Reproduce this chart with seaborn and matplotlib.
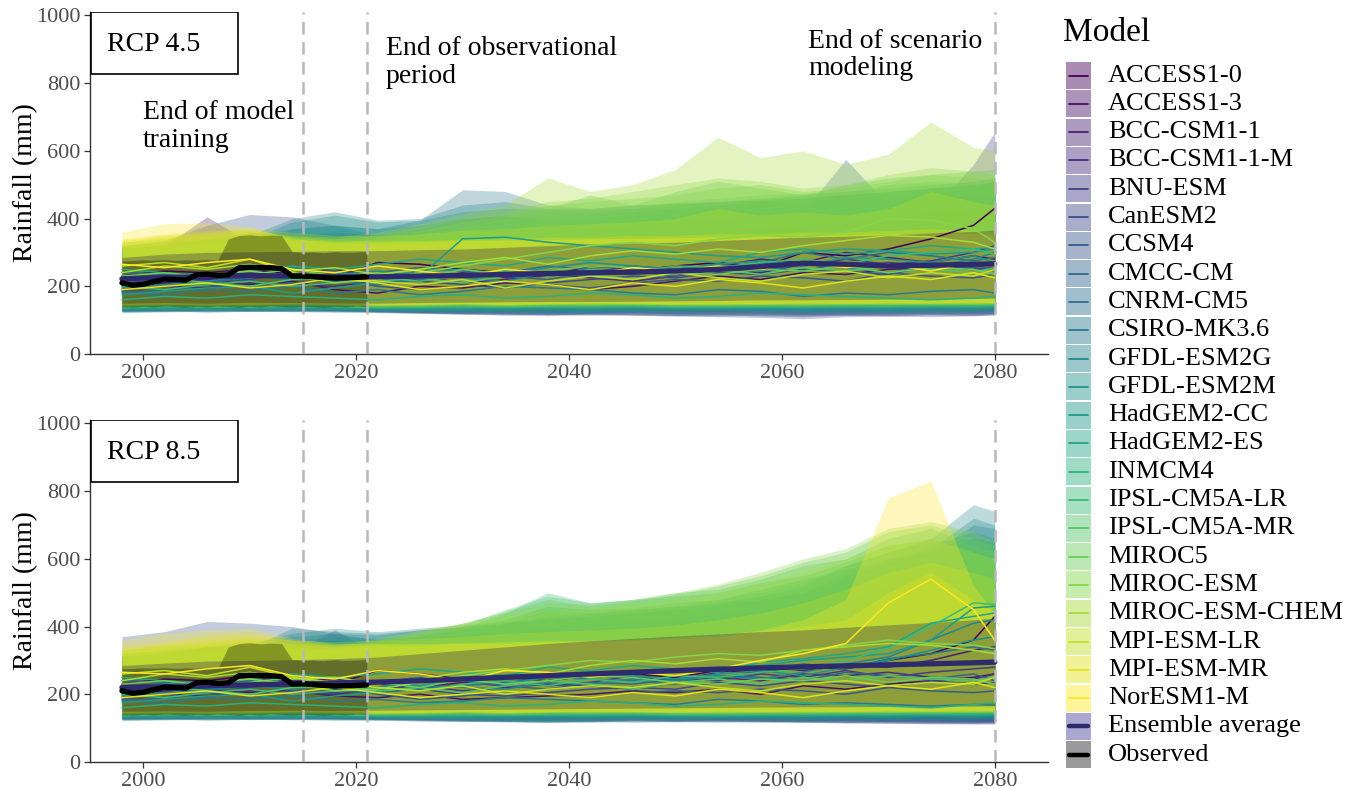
import numpy as np
import pandas as pd
import matplotlib
matplotlib.use("Agg")
import matplotlib.pyplot as plt
import seaborn as sns
from matplotlib.patches import Rectangle
from matplotlib.lines import Line2D

# ---------------- data ----------------
models = ["ACCESS1-0", "ACCESS1-3", "BCC-CSM1-1", "BCC-CSM1-1-M", "BNU-ESM", "CanESM2",
          "CCSM4", "CMCC-CM", "CNRM-CM5", "CSIRO-MK3.6", "GFDL-ESM2G", "GFDL-ESM2M",
          "HadGEM2-CC", "HadGEM2-ES", "INMCM4", "IPSL-CM5A-LR", "IPSL-CM5A-MR", "MIROC5",
          "MIROC-ESM", "MIROC-ESM-CHEM", "MPI-ESM-LR", "MPI-ESM-MR", "NorESM1-M"]

years = [1998, 2002, 2006, 2010, 2014, 2018, 2022, 2026, 2030, 2034, 2038,
         2042, 2046, 2050, 2054, 2058, 2062, 2066, 2070, 2074, 2078, 2080]

obs_years = [1998, 1999, 2000, 2001, 2002, 2003, 2004, 2005, 2006, 2007, 2008, 2009,
             2010, 2011, 2012, 2013, 2014, 2015, 2016, 2017, 2018, 2019, 2020, 2021]
obs_mid = [210, 203, 206, 214, 221, 220, 218, 234, 236, 232, 234, 255,
           256, 255, 255, 252, 230, 231, 228, 226, 224, 225, 226, 228]
obs_lo = [140, 138, 141, 139, 142, 140, 138, 141, 139, 142, 140, 138,
          141, 139, 142, 140, 139, 141, 140, 138, 141, 139, 142, 140]
obs_hi = [275, 276, 278, 277, 279, 276, 278, 277, 279, 276, 340, 350,
          352, 349, 351, 350, 302, 300, 301, 299, 302, 300, 301, 303]

# RCP 4.5
ens45_mid = [222, 226, 228, 232, 230, 228, 228, 230, 232, 235, 238, 240, 242, 245, 250, 258, 268, 265, 260, 262, 265, 266]
ens45_lo = [150, 152, 150, 153, 152, 151, 150, 152, 153, 154, 155, 155, 156, 157, 158, 160, 160, 161, 162, 163, 164, 165]
ens45_hi = [285, 295, 300, 302, 303, 305, 305, 308, 310, 315, 320, 325, 328, 330, 335, 340, 345, 348, 352, 358, 362, 366]

rcp45_mid = [
    [230, 245, 240, 250, 235, 225, 270, 265, 250, 240, 235, 250, 245, 260, 270, 255, 300, 290, 310, 340, 380, 430],
    [200, 210, 220, 205, 215, 190, 180, 200, 195, 210, 205, 190, 200, 215, 230, 220, 240, 235, 250, 255, 270, 260],
    [215, 205, 230, 260, 240, 250, 230, 220, 240, 225, 230, 260, 250, 240, 260, 280, 270, 300, 285, 270, 290, 280],
    [190, 200, 195, 210, 205, 200, 215, 230, 210, 220, 235, 225, 215, 230, 250, 240, 265, 255, 270, 260, 250, 255],
    [225, 230, 215, 220, 240, 230, 210, 220, 235, 245, 230, 240, 260, 250, 245, 270, 260, 280, 265, 275, 300, 320],
    [210, 220, 225, 215, 200, 210, 225, 215, 205, 195, 210, 220, 230, 225, 240, 235, 250, 245, 235, 260, 255, 250],
    [185, 190, 205, 195, 210, 220, 200, 190, 200, 215, 205, 195, 210, 220, 215, 230, 225, 215, 240, 230, 225, 235],
    [240, 235, 225, 245, 230, 220, 240, 255, 245, 230, 220, 240, 235, 250, 265, 255, 245, 270, 260, 250, 265, 245],
    [205, 215, 210, 225, 240, 215, 205, 220, 230, 240, 260, 250, 245, 230, 255, 270, 300, 280, 300, 290, 275, 285],
    [180, 175, 190, 185, 200, 180, 190, 175, 185, 200, 195, 190, 180, 175, 190, 185, 170, 180, 175, 185, 190, 180],
    [195, 205, 215, 230, 220, 235, 245, 230, 225, 215, 240, 230, 250, 245, 260, 245, 265, 255, 240, 260, 280, 300],
    [220, 230, 240, 225, 255, 240, 225, 245, 250, 235, 255, 270, 260, 250, 265, 275, 260, 285, 280, 270, 290, 270],
    [175, 185, 195, 200, 180, 195, 210, 230, 340, 345, 330, 320, 310, 300, 290, 285, 300, 310, 305, 295, 300, 310],
    [250, 240, 230, 245, 260, 250, 265, 280, 270, 260, 285, 275, 290, 280, 270, 300, 310, 295, 305, 320, 310, 315],
    [160, 170, 165, 175, 170, 165, 160, 170, 175, 165, 170, 180, 175, 165, 170, 180, 175, 170, 165, 160, 165, 170],
    [200, 190, 205, 215, 200, 210, 225, 215, 235, 245, 230, 250, 240, 260, 255, 270, 280, 265, 290, 300, 310, 295],
    [215, 225, 210, 200, 220, 230, 215, 225, 210, 230, 245, 235, 220, 240, 250, 235, 255, 245, 260, 250, 240, 255],
    [230, 240, 225, 235, 250, 230, 240, 225, 250, 235, 245, 260, 255, 240, 235, 250, 245, 260, 240, 255, 250, 235],
    [225, 215, 235, 245, 230, 210, 220, 240, 260, 280, 300, 320, 330, 320, 340, 350, 345, 360, 400, 395, 370, 330],
    [240, 260, 250, 265, 245, 255, 235, 250, 270, 285, 265, 290, 305, 295, 310, 300, 320, 335, 350, 345, 330, 310],
    [260, 270, 255, 280, 240, 230, 215, 205, 220, 195, 215, 230, 220, 240, 225, 215, 235, 245, 225, 240, 230, 250],
    [190, 200, 210, 195, 205, 225, 210, 190, 200, 215, 205, 190, 210, 200, 220, 210, 195, 215, 230, 220, 240, 225],
    [265, 255, 270, 280, 250, 240, 260, 245, 230, 250, 240, 235, 255, 245, 260, 250, 270, 255, 265, 245, 270, 260],
]
rcp45_hi = [
    [290, 300, 310, 305, 300, 295, 300, 305, 310, 315, 320, 325, 330, 335, 340, 345, 355, 365, 375, 390, 420, 440],
    [280, 290, 300, 295, 290, 285, 290, 295, 300, 305, 310, 315, 320, 325, 330, 335, 340, 350, 360, 370, 380, 390],
    [310, 320, 405, 330, 320, 310, 315, 320, 325, 330, 335, 340, 345, 350, 355, 360, 370, 380, 390, 400, 410, 420],
    [290, 295, 305, 310, 300, 295, 300, 305, 310, 315, 320, 325, 330, 340, 345, 350, 360, 370, 380, 390, 400, 410],
    [300, 310, 320, 330, 325, 320, 315, 320, 330, 335, 340, 345, 350, 355, 360, 370, 380, 390, 400, 420, 560, 655],
    [310, 320, 335, 360, 350, 340, 330, 335, 340, 345, 350, 355, 360, 370, 375, 380, 390, 400, 410, 420, 430, 440],
    [320, 335, 380, 412, 405, 380, 350, 355, 360, 365, 370, 375, 380, 390, 400, 410, 420, 430, 450, 470, 470, 480],
    [310, 325, 340, 350, 360, 350, 340, 345, 350, 355, 360, 370, 380, 390, 395, 400, 420, 575, 440, 460, 470, 470],
    [300, 310, 320, 330, 350, 360, 350, 370, 400, 410, 390, 400, 410, 420, 430, 440, 450, 460, 470, 480, 490, 500],
    [310, 320, 330, 350, 370, 380, 370, 395, 485, 480, 440, 430, 440, 445, 450, 455, 460, 470, 480, 490, 500, 510],
    [320, 330, 340, 350, 400, 420, 395, 400, 440, 450, 430, 425, 430, 440, 450, 460, 470, 480, 490, 500, 510, 520],
    [310, 320, 330, 340, 390, 410, 390, 395, 420, 430, 425, 430, 440, 445, 450, 455, 465, 470, 480, 490, 500, 510],
    [300, 310, 320, 330, 370, 380, 370, 380, 400, 405, 410, 415, 420, 430, 440, 450, 460, 470, 480, 490, 500, 505],
    [310, 320, 330, 335, 350, 360, 350, 360, 375, 390, 400, 410, 420, 430, 440, 450, 460, 470, 480, 490, 500, 505],
    [290, 300, 310, 320, 330, 340, 335, 345, 355, 365, 375, 390, 400, 420, 430, 440, 450, 460, 470, 480, 480, 490],
    [320, 330, 340, 350, 345, 340, 335, 350, 365, 380, 400, 420, 430, 450, 460, 470, 475, 480, 500, 510, 505, 500],
    [310, 320, 330, 340, 335, 330, 340, 355, 375, 400, 430, 470, 440, 480, 510, 490, 470, 500, 520, 530, 540, 545],
    [320, 335, 345, 355, 340, 330, 345, 365, 390, 410, 440, 450, 460, 470, 490, 500, 480, 490, 510, 530, 520, 515],
    [330, 340, 350, 360, 350, 340, 350, 375, 400, 420, 450, 460, 480, 500, 520, 510, 490, 500, 530, 550, 540, 530],
    [330, 345, 355, 365, 350, 345, 360, 385, 415, 440, 520, 480, 500, 545, 640, 580, 600, 560, 590, 685, 610, 600],
    [335, 350, 360, 370, 360, 350, 350, 355, 365, 370, 380, 385, 390, 400, 430, 410, 420, 410, 430, 480, 450, 440],
    [340, 355, 365, 370, 345, 335, 335, 335, 340, 340, 345, 345, 350, 350, 355, 355, 360, 360, 365, 370, 365, 360],
    [360, 385, 388, 375, 340, 330, 330, 332, 335, 336, 338, 340, 342, 344, 346, 348, 350, 352, 355, 358, 356, 354],
]
rcp45_lo = [
    [138, 140, 142, 139, 141, 143, 140, 138, 141, 143, 140, 138, 142, 140, 139, 141, 143, 140, 142, 141, 143, 145],
    [142, 140, 144, 142, 140, 143, 145, 142, 140, 142, 144, 141, 143, 145, 142, 140, 143, 145, 142, 144, 146, 144],
    [136, 138, 135, 137, 139, 136, 134, 136, 138, 135, 137, 134, 136, 138, 135, 133, 136, 138, 135, 137, 139, 140],
    [130, 132, 134, 131, 133, 130, 128, 131, 133, 130, 127, 129, 131, 128, 126, 129, 131, 128, 130, 132, 129, 131],
    [128, 130, 127, 129, 131, 128, 125, 122, 120, 118, 116, 118, 115, 113, 116, 112, 110, 114, 112, 115, 113, 116],
    [126, 128, 130, 127, 125, 128, 124, 121, 118, 116, 118, 115, 117, 114, 112, 115, 113, 116, 114, 117, 115, 118],
    [125, 127, 124, 126, 128, 125, 122, 120, 117, 115, 113, 116, 114, 112, 110, 108, 104, 110, 112, 110, 113, 115],
    [130, 128, 131, 129, 127, 130, 126, 123, 121, 119, 117, 119, 121, 118, 116, 119, 117, 115, 118, 120, 118, 121],
    [128, 126, 129, 131, 128, 126, 123, 121, 119, 121, 118, 120, 122, 119, 121, 118, 116, 119, 121, 119, 122, 120],
    [124, 126, 128, 125, 127, 129, 126, 124, 122, 125, 123, 121, 124, 122, 125, 123, 121, 124, 122, 125, 123, 126],
    [122, 124, 126, 128, 125, 123, 126, 124, 127, 125, 123, 126, 124, 127, 125, 128, 126, 124, 127, 125, 128, 126],
    [126, 128, 124, 126, 129, 127, 125, 128, 126, 124, 127, 125, 128, 126, 129, 127, 125, 128, 126, 129, 127, 130],
    [130, 128, 132, 130, 128, 131, 129, 127, 130, 128, 131, 129, 132, 130, 128, 131, 129, 132, 130, 133, 131, 134],
    [132, 134, 130, 133, 135, 132, 130, 133, 131, 134, 132, 130, 133, 131, 134, 132, 135, 133, 131, 134, 132, 135],
    [135, 133, 137, 135, 133, 136, 134, 132, 135, 133, 136, 134, 137, 135, 133, 136, 134, 137, 135, 138, 136, 139],
    [134, 136, 138, 135, 137, 139, 136, 134, 137, 135, 138, 136, 139, 137, 135, 138, 136, 139, 137, 140, 138, 141],
    [137, 139, 136, 138, 140, 137, 135, 138, 136, 139, 137, 140, 138, 136, 139, 137, 140, 138, 141, 139, 142, 140],
    [138, 140, 142, 139, 141, 143, 140, 138, 141, 139, 142, 140, 143, 141, 139, 142, 140, 143, 141, 144, 142, 145],
    [140, 142, 139, 141, 143, 140, 138, 141, 143, 140, 142, 145, 143, 141, 144, 142, 145, 143, 146, 144, 147, 145],
    [142, 144, 146, 143, 145, 147, 144, 142, 145, 143, 146, 144, 147, 145, 143, 146, 144, 147, 145, 148, 146, 149],
    [144, 146, 143, 145, 147, 144, 142, 145, 147, 144, 146, 149, 147, 145, 148, 146, 149, 147, 150, 148, 151, 149],
    [145, 147, 149, 146, 148, 150, 147, 145, 148, 146, 149, 147, 150, 148, 146, 149, 147, 150, 148, 151, 149, 152],
    [146, 148, 145, 147, 149, 146, 144, 147, 149, 146, 148, 151, 149, 147, 150, 148, 151, 149, 152, 150, 153, 151],
]

# RCP 8.5
ens85_mid = [220, 222, 225, 228, 230, 233, 236, 240, 245, 250, 255, 260, 265, 270, 274, 278, 281, 284, 287, 290, 293, 295]
ens85_lo = [150, 151, 150, 152, 153, 152, 153, 154, 155, 156, 157, 158, 159, 160, 161, 162, 163, 163, 164, 165, 165, 166]
ens85_hi = [285, 292, 298, 300, 302, 305, 310, 320, 330, 340, 350, 358, 365, 372, 378, 385, 390, 398, 405, 412, 420, 425]

rcp85_mid = [
    [230, 245, 240, 255, 235, 230, 270, 260, 245, 250, 240, 255, 260, 250, 270, 265, 280, 275, 300, 320, 360, 430],
    [200, 210, 215, 205, 210, 195, 190, 200, 185, 190, 195, 200, 210, 205, 215, 200, 225, 215, 230, 240, 250, 260],
    [215, 205, 225, 250, 240, 245, 230, 220, 235, 225, 240, 255, 250, 240, 265, 280, 270, 285, 280, 300, 330, 340],
    [190, 200, 195, 210, 205, 200, 215, 225, 210, 220, 230, 225, 215, 235, 250, 240, 260, 255, 265, 250, 245, 260],
    [225, 230, 215, 220, 240, 230, 210, 215, 230, 240, 225, 235, 255, 245, 240, 260, 250, 270, 250, 265, 275, 280],
    [210, 220, 225, 215, 200, 205, 220, 215, 200, 195, 205, 215, 220, 215, 235, 225, 240, 230, 220, 240, 230, 235],
    [185, 190, 205, 195, 210, 215, 200, 185, 195, 210, 200, 190, 205, 210, 205, 215, 210, 200, 220, 210, 205, 210],
    [240, 235, 225, 240, 230, 220, 235, 250, 240, 225, 215, 235, 230, 245, 255, 250, 240, 265, 255, 245, 260, 240],
    [205, 215, 210, 225, 235, 210, 205, 215, 225, 235, 250, 245, 240, 230, 250, 265, 290, 275, 305, 320, 340, 330],
    [180, 175, 190, 185, 195, 180, 185, 175, 180, 190, 185, 180, 175, 170, 185, 180, 170, 175, 170, 165, 170, 168],
    [195, 205, 215, 225, 215, 230, 240, 225, 220, 215, 235, 230, 245, 240, 255, 245, 265, 290, 310, 360, 410, 420],
    [220, 230, 240, 225, 250, 235, 220, 240, 245, 230, 250, 265, 255, 245, 260, 270, 255, 280, 300, 330, 360, 370],
    [175, 185, 195, 200, 180, 195, 205, 225, 250, 245, 260, 250, 265, 275, 280, 285, 300, 310, 320, 360, 455, 460],
    [250, 240, 230, 245, 260, 250, 260, 275, 265, 255, 280, 270, 285, 275, 265, 295, 305, 320, 340, 410, 430, 440],
    [160, 170, 165, 175, 170, 165, 160, 170, 175, 165, 170, 180, 175, 165, 170, 180, 175, 170, 165, 160, 170, 175],
    [200, 190, 205, 215, 200, 210, 220, 210, 230, 240, 225, 245, 235, 255, 250, 265, 275, 300, 335, 400, 470, 465],
    [215, 225, 210, 200, 220, 225, 210, 220, 205, 225, 240, 230, 215, 235, 245, 230, 250, 240, 255, 245, 240, 250],
    [230, 240, 225, 235, 250, 225, 235, 220, 245, 230, 240, 255, 250, 235, 230, 245, 240, 255, 235, 250, 245, 230],
    [225, 215, 235, 245, 230, 210, 215, 235, 255, 270, 285, 300, 295, 310, 320, 315, 330, 345, 360, 350, 345, 335],
    [240, 260, 250, 265, 245, 250, 230, 245, 265, 275, 260, 285, 300, 290, 305, 295, 330, 340, 350, 345, 330, 320],
    [260, 270, 255, 280, 250, 235, 220, 210, 225, 200, 215, 225, 220, 235, 220, 210, 230, 240, 225, 235, 230, 250],
    [190, 200, 210, 195, 205, 220, 205, 190, 200, 210, 200, 190, 205, 195, 215, 205, 190, 210, 225, 215, 235, 220],
    [265, 260, 275, 285, 255, 245, 270, 260, 240, 270, 265, 250, 265, 255, 275, 300, 320, 350, 470, 540, 450, 360],
]
rcp85_hi = [
    [290, 300, 310, 305, 300, 295, 300, 305, 315, 320, 325, 330, 335, 340, 350, 360, 370, 380, 390, 400, 420, 430],
    [280, 290, 300, 295, 290, 285, 295, 300, 305, 310, 315, 320, 325, 330, 340, 350, 360, 370, 380, 390, 400, 410],
    [310, 320, 340, 330, 320, 310, 320, 325, 335, 340, 345, 350, 360, 365, 375, 385, 395, 405, 420, 440, 460, 470],
    [290, 295, 305, 310, 300, 295, 305, 310, 320, 325, 330, 335, 345, 350, 360, 370, 380, 390, 405, 420, 440, 450],
    [300, 310, 320, 330, 325, 390, 320, 325, 335, 345, 350, 355, 365, 370, 380, 390, 400, 410, 420, 440, 460, 470],
    [310, 320, 335, 350, 345, 340, 335, 340, 350, 360, 365, 370, 380, 390, 400, 410, 420, 440, 460, 480, 500, 510],
    [370, 385, 415, 410, 400, 380, 360, 365, 375, 385, 395, 405, 415, 425, 435, 450, 470, 490, 510, 530, 540, 550],
    [310, 325, 340, 350, 360, 350, 345, 350, 360, 370, 380, 390, 400, 410, 420, 430, 450, 470, 500, 520, 560, 570],
    [300, 310, 320, 330, 350, 360, 355, 370, 390, 400, 410, 420, 430, 440, 450, 460, 480, 520, 560, 600, 660, 650],
    [310, 320, 330, 350, 370, 380, 375, 390, 400, 410, 420, 430, 440, 450, 460, 480, 500, 540, 580, 620, 700, 690],
    [320, 330, 340, 350, 380, 395, 385, 395, 405, 415, 425, 435, 445, 455, 470, 490, 520, 580, 620, 660, 760, 740],
    [310, 320, 330, 340, 395, 385, 380, 390, 400, 410, 420, 430, 440, 450, 465, 480, 500, 550, 590, 630, 720, 700],
    [300, 310, 320, 330, 360, 370, 365, 375, 390, 410, 430, 440, 450, 460, 470, 490, 510, 560, 600, 640, 680, 660],
    [310, 320, 330, 335, 350, 360, 355, 370, 395, 420, 460, 450, 455, 470, 480, 500, 530, 580, 620, 650, 660, 640],
    [290, 300, 310, 320, 330, 340, 340, 355, 375, 410, 450, 440, 450, 460, 480, 510, 540, 570, 600, 620, 620, 600],
    [320, 330, 340, 350, 345, 340, 345, 365, 395, 440, 500, 470, 480, 490, 500, 530, 550, 590, 640, 660, 620, 600],
    [310, 320, 330, 340, 335, 330, 350, 370, 405, 450, 490, 470, 480, 500, 510, 540, 580, 600, 660, 690, 640, 620],
    [320, 335, 345, 355, 340, 335, 355, 380, 410, 445, 480, 460, 475, 495, 520, 550, 590, 620, 680, 700, 660, 640],
    [330, 340, 350, 360, 350, 340, 360, 385, 410, 440, 470, 465, 480, 500, 525, 560, 600, 630, 690, 710, 680, 650],
    [330, 345, 355, 365, 350, 345, 365, 390, 410, 430, 450, 450, 465, 480, 500, 530, 560, 600, 640, 660, 620, 600],
    [335, 350, 360, 370, 360, 355, 360, 365, 370, 380, 385, 390, 395, 405, 420, 440, 470, 510, 560, 590, 560, 540],
    [340, 355, 375, 380, 360, 345, 345, 345, 350, 350, 355, 355, 360, 365, 370, 385, 400, 420, 500, 560, 480, 440],
    [360, 380, 390, 395, 365, 350, 350, 350, 352, 355, 358, 360, 362, 368, 375, 390, 420, 480, 780, 830, 520, 440],
]
rcp85_lo = [
    [140, 138, 142, 140, 143, 141, 139, 137, 140, 142, 139, 137, 141, 139, 136, 134, 132, 130, 128, 126, 124, 122],
    [142, 140, 143, 141, 139, 142, 144, 141, 139, 141, 143, 140, 142, 140, 138, 136, 134, 132, 130, 128, 126, 125],
    [136, 138, 135, 137, 139, 136, 134, 136, 138, 135, 137, 134, 136, 134, 132, 130, 128, 126, 124, 122, 120, 119],
    [130, 132, 134, 131, 133, 130, 128, 131, 133, 130, 127, 129, 131, 128, 126, 125, 123, 121, 119, 117, 116, 115],
    [128, 130, 127, 129, 131, 128, 126, 125, 127, 124, 126, 123, 125, 122, 124, 121, 119, 117, 115, 113, 112, 112],
    [126, 128, 130, 127, 125, 128, 126, 124, 122, 120, 123, 121, 124, 122, 120, 118, 117, 115, 114, 113, 114, 115],
    [125, 127, 124, 126, 128, 125, 123, 121, 119, 122, 120, 118, 121, 119, 117, 120, 118, 116, 119, 117, 115, 118],
    [130, 128, 131, 129, 127, 130, 127, 125, 122, 120, 118, 120, 117, 119, 121, 118, 120, 122, 119, 121, 118, 120],
    [128, 126, 129, 131, 128, 126, 124, 122, 120, 118, 116, 118, 121, 119, 122, 120, 118, 121, 119, 122, 120, 123],
    [124, 126, 128, 125, 127, 129, 127, 125, 123, 121, 119, 122, 124, 122, 125, 123, 121, 124, 122, 125, 123, 126],
    [122, 124, 126, 128, 125, 123, 126, 124, 122, 120, 118, 121, 123, 126, 124, 127, 125, 123, 126, 124, 127, 125],
    [126, 128, 124, 126, 129, 127, 125, 128, 126, 124, 122, 125, 127, 125, 128, 126, 124, 127, 125, 128, 126, 129],
    [130, 128, 132, 130, 128, 131, 129, 127, 130, 128, 131, 129, 132, 130, 128, 131, 129, 132, 130, 133, 131, 134],
    [132, 134, 130, 133, 135, 132, 130, 133, 131, 134, 132, 130, 133, 131, 134, 132, 135, 133, 131, 134, 132, 135],
    [135, 133, 137, 135, 133, 136, 134, 132, 135, 133, 136, 134, 137, 135, 133, 136, 134, 137, 135, 138, 136, 139],
    [134, 136, 138, 135, 137, 139, 136, 134, 137, 135, 138, 136, 139, 137, 135, 138, 136, 139, 137, 140, 138, 141],
    [137, 139, 136, 138, 140, 137, 135, 138, 136, 139, 137, 140, 138, 136, 139, 137, 140, 138, 141, 139, 142, 140],
    [138, 140, 142, 139, 141, 143, 140, 138, 141, 139, 142, 140, 143, 141, 139, 142, 140, 143, 141, 144, 142, 145],
    [140, 142, 139, 141, 143, 140, 138, 141, 143, 140, 142, 145, 143, 141, 144, 142, 145, 143, 146, 144, 147, 145],
    [142, 144, 146, 143, 145, 147, 144, 142, 145, 143, 146, 144, 147, 145, 143, 146, 144, 147, 145, 148, 146, 149],
    [144, 146, 143, 145, 147, 144, 142, 145, 147, 144, 146, 149, 147, 145, 148, 146, 149, 147, 150, 148, 151, 149],
    [145, 147, 149, 146, 148, 150, 147, 145, 148, 146, 149, 147, 150, 148, 146, 149, 147, 150, 148, 151, 149, 152],
    [146, 148, 145, 147, 149, 146, 144, 147, 149, 146, 148, 151, 149, 147, 150, 148, 151, 149, 152, 150, 153, 151],
]

x_ticks = [2000, 2020, 2040, 2060, 2080]
y_ticks = [0, 200, 400, 600, 800, 1000]
event_years = [2015, 2021, 2080]

# ---------------- style ----------------
sns.set_theme(style="white")
plt.rcParams["font.family"] = ["Liberation Serif", "DejaVu Serif"]

W, H = 1352, 789
fig = plt.figure(figsize=(W / 100, H / 100), dpi=100)

model_colors = [matplotlib.colormaps["viridis"](v) for v in np.linspace(0, 1, len(models))]
palette = dict(zip(models, model_colors))
ens_fill = "#2a2650"
ens_line = "#2d2a6e"
ens_key = "#aaa8d0"
RIB_ALPHA = 0.3


def long_df(mid):
    rows = []
    for m, vals in zip(models, mid):
        for y, v in zip(years, vals):
            rows.append((m, y, v))
    return pd.DataFrame(rows, columns=["model", "year", "value"])


def panel(ax, mid, lo, hi, e_mid, e_lo, e_hi, label, notes):
    for i, m in enumerate(models):
        ax.fill_between(years, lo[i], hi[i], color=model_colors[i], alpha=RIB_ALPHA, lw=0, zorder=1)
    ax.fill_between(years, e_lo, e_hi, color=ens_fill, alpha=0.33, lw=0, zorder=2)
    ax.fill_between(obs_years, obs_lo, obs_hi, color="black", alpha=0.3, lw=0, zorder=2)
    sns.lineplot(data=long_df(mid), x="year", y="value", hue="model", hue_order=models,
                 palette=palette, estimator=None, legend=False, linewidth=1.1, ax=ax, zorder=3)
    sns.lineplot(x=years, y=e_mid, color=ens_line, linewidth=3.8, estimator=None, ax=ax, zorder=4)
    sns.lineplot(x=obs_years, y=obs_mid, color="black", linewidth=3.8, estimator=None, ax=ax, zorder=5)
    for xv in event_years:
        ax.axvline(xv, color="#b8b8b8", lw=1.8, ls=(0, (5, 3)), zorder=6)
    ax.set_xlim(1995, 2085)
    ax.set_ylim(0, 1010)
    ax.set_xticks(x_ticks)
    ax.set_yticks(y_ticks)
    ax.set_xlabel("")
    ax.set_ylabel("Rainfall (mm)", fontsize=20, color="black")
    ax.yaxis.set_label_coords(-0.054, 0.5)
    for s in ["top", "right"]:
        ax.spines[s].set_visible(False)
    for s in ["left", "bottom"]:
        ax.spines[s].set_color("#333333")
        ax.spines[s].set_linewidth(1.0)
    ax.tick_params(axis="both", which="both", direction="out", length=4, width=0.9,
                   color="#333333", labelcolor="#4d4d4d", labelsize=16, pad=3,
                   bottom=True, left=True)
    ax.add_patch(Rectangle((0.001, 0.818), 0.153, 0.182, transform=ax.transAxes,
                           facecolor="white", edgecolor="black", lw=1.2, zorder=8))
    ax.text(0.066, 0.906, label, transform=ax.transAxes, ha="center", va="center",
            fontsize=20, color="black", zorder=9)
    for (tx, ty, txt) in notes:
        ax.text(tx, ty, txt, ha="left", va="center", fontsize=20, color="black",
                linespacing=1.15, zorder=9)


ax1 = fig.add_axes([90 / W, 1 - 354 / H, 958 / W, 342 / H])
ax2 = fig.add_axes([90 / W, 1 - 762 / H, 958 / W, 342 / H])

notes1 = [(2000, 672, "End of model\ntraining"),
          (2022.8, 862, "End of observational\nperiod"),
          (2062.5, 883, "End of scenario\nmodeling")]
panel(ax1, rcp45_mid, rcp45_lo, rcp45_hi, ens45_mid, ens45_lo, ens45_hi, "RCP 4.5", notes1)
panel(ax2, rcp85_mid, rcp85_lo, rcp85_hi, ens85_mid, ens85_lo, ens85_hi, "RCP 8.5", [])

# ---------------- legend (drawn in pixel space) ----------------
lax = fig.add_axes([0, 0, 1, 1], facecolor="none")
lax.set_xlim(0, W)
lax.set_ylim(H, 0)
lax.axis("off")
lax.text(1063, 33, "Model", fontsize=24, ha="left", va="center", color="black")
entries = [(m, c, c, 0.45, 1.3) for m, c in zip(models, model_colors)]
entries += [("Ensemble average", ens_key, ens_line, 1.0, 3.2),
            ("Observed", "#9a9a9a", "black", 1.0, 3.2)]
for k, (name, fc, lc, a, lw) in enumerate(entries):
    cy = 75.5 + 28.3 * k
    lax.add_patch(Rectangle((1066, cy - 13.5), 25, 27, facecolor=fc, alpha=a, edgecolor="none"))
    lax.add_line(Line2D([1069, 1088], [cy, cy], color=lc, lw=lw))
    lax.text(1108, cy, name, fontsize=19, ha="left", va="center", color="black")

fig.savefig("out.png", dpi=100)
